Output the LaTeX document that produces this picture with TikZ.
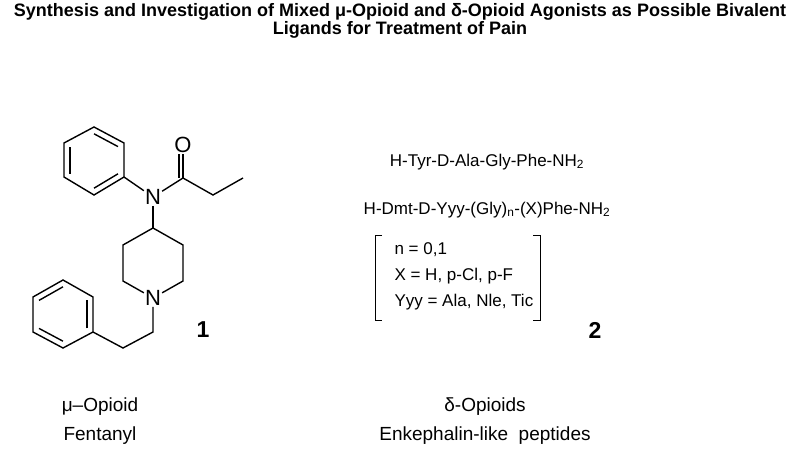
\documentclass[tikz,border=0pt]{standalone}
\usepackage{fontspec}
\setmainfont{Liberation Sans}
\usetikzlibrary{calc}
\tikzset{
  bond/.style={line width=1.4pt},
  atom/.style={inner sep=1pt, font=\fontsize{22}{24}\selectfont},
  txt/.style={font=\fontsize{19}{22}\selectfont},
  num/.style={font=\fontsize{23}{24}\bfseries\selectfont},
  ttl/.style={font=\fontsize{18}{18}\bfseries\selectfont, align=center}
}
\newcommand{\dbl}[3]{\draw[bond] ($(#1)!.2!(#3)$) -- ($(#2)!.2!(#3)$);}
\begin{document}
\begin{tikzpicture}[x=1pt,y=-1pt]
  \useasboundingbox (0,0) rectangle (800,454);
  % title
  \node[ttl] (title) at (400,21) {Synthesis and Investigation of Mixed μ-Opioid and δ-Opioid Agonists as Possible Bivalent\\Ligands for Treatment of Pain};

  % fentanyl skeleton
  \coordinate (a1) at (94,127);  \coordinate (a2) at (124,143);
  \coordinate (a3) at (124,177); \coordinate (a4) at (94,195);
  \coordinate (a5) at (64,177);  \coordinate (a6) at (64,143);
  \coordinate (actr) at (94,161);
  \node[atom] (n1) at (153,197) {N};
  \coordinate (c1) at (183,178);
  \node[atom] (o1) at (183,145) {O};
  \coordinate (c2) at (213,195); \coordinate (c3) at (243,178);
  \coordinate (p1) at (153,228); \coordinate (p2) at (183,245);
  \coordinate (p3) at (183,281); \node[atom] (n2) at (153,298) {N};
  \coordinate (p5) at (123,281); \coordinate (p6) at (123,245);
  \coordinate (e1) at (153,332); \coordinate (e2) at (123,348);
  \coordinate (b1) at (93,332);  \coordinate (b2) at (93,297);
  \coordinate (b3) at (63,280);  \coordinate (b4) at (33,297);
  \coordinate (b5) at (33,332);  \coordinate (b6) at (63,348);
  \coordinate (bctr) at (63,314);

  \draw[bond] (a1) -- (a2) -- (a3) -- (a4) -- (a5) -- (a6) -- cycle;
  \dbl{a1}{a2}{actr} \dbl{a3}{a4}{actr} \dbl{a5}{a6}{actr}
  \draw[bond] (a3) -- (n1) -- (c1) -- (c2) -- (c3);
  \draw[bond] (n1) -- (p1);
  \draw[bond] (c1) -- (o1);
  \draw[bond] ($(c1)+(-4,0)$) -- ($(o1.south)+(-4,0)$);
  \draw[bond] (p1) -- (p2) -- (p3) -- (n2) -- (p5) -- (p6) -- (p1);
  \draw[bond] (n2) -- (e1) -- (e2) -- (b1);
  \draw[bond] (b1) -- (b2) -- (b3) -- (b4) -- (b5) -- (b6) -- cycle;
  \dbl{b1}{b2}{bctr} \dbl{b3}{b4}{bctr} \dbl{b5}{b6}{bctr}
  \node[num] (num1) at (203,330) {1};
  \node[txt] (mu) at (100,407) {μ–Opioid};
  \node[txt] (fen) at (100,436) {Fentanyl};

  % peptides
  \node[txt, font=\fontsize{17}{20}\selectfont] (pep1) at (487,162) {H-Tyr-D-Ala-Gly-Phe-NH\textsubscript{2}};
  \node[txt, font=\fontsize{17}{20}\selectfont] (pep2) at (487,210) {H-Dmt-D-Yyy-(Gly)\textsubscript{n}-(X)Phe-NH\textsubscript{2}};
  \node[txt, font=\fontsize{17}{20}\selectfont, anchor=west] (v1) at (391,250) {n = 0,1};
  \node[txt, font=\fontsize{17}{20}\selectfont, anchor=west] (v2) at (391,276) {X = H, p-Cl, p-F};
  \node[txt, font=\fontsize{17}{20}\selectfont, anchor=west] (v3) at (391,302) {Yyy = Ala, Nle, Tic};
  \draw[line width=1pt] (382,236) -- (375,236) -- (375,320) -- (382,320);
  \draw[line width=1pt] (533,236) -- (540,236) -- (540,320) -- (533,320);
  \node[num] (num2) at (595,330) {2};
  \node[txt] (delta) at (485,407) {δ-Opioids};
  \node[txt] (enk) at (485,436) {Enkephalin-like\ \ peptides};
\end{tikzpicture}
\end{document}
